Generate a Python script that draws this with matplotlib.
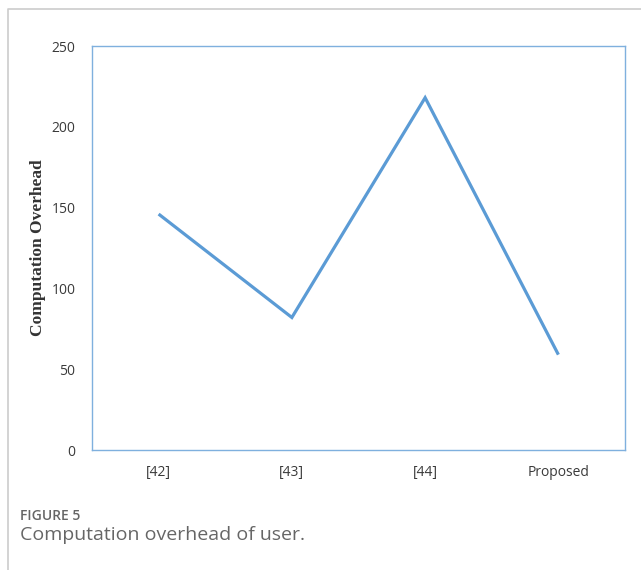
import matplotlib.pyplot as plt
from matplotlib.lines import Line2D

categories = ["[42]", "[43]", "[44]", "Proposed"]
overhead = [146, 82, 218, 59]
y_ticks = [0, 50, 100, 150, 200, 250]

W, H = 641, 570
fig = plt.figure(figsize=(W / 100, H / 100), dpi=100)

# plot area in pixel coordinates
left, right, top, bottom = 92, 625, 46, 450
ax = fig.add_axes([left / W, 1 - bottom / H, (right - left) / W, (bottom - top) / H])

ax.plot(range(len(categories)), overhead, color="#5B9BD5", linewidth=2.3,
        solid_joinstyle="miter", solid_capstyle="butt")

ax.set_xlim(-0.5, len(categories) - 0.5)
ax.set_ylim(0, 250)
ax.set_yticks(y_ticks)
ax.set_xticks(range(len(categories)))
ax.set_xticklabels(categories)
ax.tick_params(length=0, labelsize=10, labelcolor="#3A3A3A")
ax.tick_params(axis="y", pad=12)
ax.tick_params(axis="x", pad=11)
for lbl in ax.get_xticklabels() + ax.get_yticklabels():
    lbl.set_family("Open Sans")

for sp in ax.spines.values():
    sp.set_color("#7FB0DE")
    sp.set_linewidth(1.0)

fig.text(38 / W, 1 - 248 / H, "Computation Overhead", rotation=90,
         ha="center", va="center", fontsize=12.5, fontweight="bold",
         family="Liberation Serif", color="#333333")

# caption under the chart
fig.text(20 / W, 1 - 516 / H, "FIGURE 5", ha="left", va="center",
         fontsize=10, fontweight="semibold", family="Open Sans", color="#666666")
fig.text(20 / W, 1 - 535 / H, "Computation overhead of user.", ha="left",
         va="center", fontsize=14, family="Open Sans", color="#666666")

# light gray frame on the top and left edges
fig.add_artist(Line2D([8 / W, 8 / W, 1], [0, 1 - 9 / H, 1 - 9 / H],
                      transform=fig.transFigure, color="#CCCCCC", linewidth=1.2))

fig.savefig("out.png", dpi=100)
